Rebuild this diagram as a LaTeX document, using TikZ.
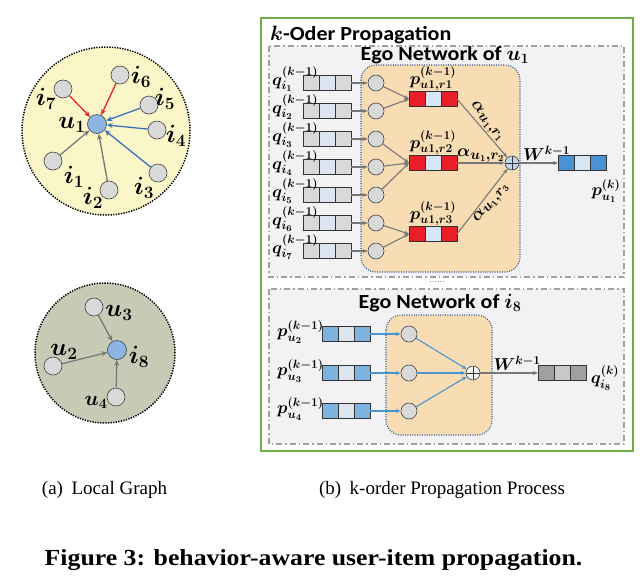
\documentclass[tikz,border=0pt]{standalone}
\usepackage[no-math]{fontspec}
\usepackage{amsmath}
\usetikzlibrary{arrows.meta}
\newfontfamily\calib[FakeStretch=1.1]{Carlito}
\newfontfamily\capserif{Liberation Serif}
\definecolor{gborder}{RGB}{112,173,71}
\definecolor{egofill}{RGB}{242,242,245}
\definecolor{egoline}{RGB}{160,160,160}
\definecolor{peach}{RGB}{248,221,180}
\definecolor{dotblue}{RGB}{47,85,151}
\definecolor{cellgray}{RGB}{217,217,217}
\definecolor{celllav}{RGB}{222,227,240}
\definecolor{cellred}{RGB}{232,30,40}
\definecolor{celllb}{RGB}{214,230,244}
\definecolor{cellblue}{RGB}{74,146,212}
\definecolor{cellsky}{RGB}{126,179,224}
\definecolor{celldg}{RGB}{160,160,160}
\definecolor{cellmg}{RGB}{200,200,200}
\definecolor{nodegray}{RGB}{217,217,217}
\definecolor{nodeblue}{RGB}{141,180,226}
\definecolor{arrred}{RGB}{232,34,40}
\definecolor{arrblue}{RGB}{58,114,184}
\definecolor{arrgray}{RGB}{120,120,120}
\definecolor{lineblue}{RGB}{70,150,210}
\definecolor{yellowbg}{RGB}{250,246,200}
\definecolor{olivebg}{RGB}{199,203,181}
\definecolor{opblue}{RGB}{189,215,238}
% vector box: name, left x, centre y, three colours
\newcommand\vecb[6]{%
  \fill[#4] (#2,#3-7.5) rectangle ++(16,15);
  \fill[#5] (#2+16,#3-7.5) rectangle ++(16,15);
  \fill[#6] (#2+32,#3-7.5) rectangle ++(16,15);
  \draw[cellline] (#2+16,#3-7.5) -- ++(0,15) (#2+32,#3-7.5) -- ++(0,15);
  \node[cellframe] (#1) at (#2+24,#3) {};}
\begin{document}
\begin{tikzpicture}[x=1pt,y=-1pt,
  cellline/.style={draw=black!80, line width=0.7pt},
  cellframe/.style={draw=black!80, line width=0.7pt, minimum width=48pt, minimum height=15pt, inner sep=0pt, outer sep=0pt},
  gnode/.style={circle, draw=black!75, line width=0.6pt, fill=nodegray, minimum size=18pt, inner sep=0pt},
  bnode/.style={gnode, fill=nodeblue, minimum size=19pt},
  snode/.style={gnode, minimum size=16pt},
  oplusnode/.style={circle, draw=black!75, line width=0.6pt, minimum size=14pt, inner sep=0pt,
     path picture={\draw[black!80, line width=0.6pt] (path picture bounding box.north) -- (path picture bounding box.south)
        (path picture bounding box.west) -- (path picture bounding box.east);}},
  biglbl/.style={inner sep=0pt, font=\fontsize{25}{27}\selectfont\boldmath},
  mlbl/.style={inner sep=0pt, font=\fontsize{18}{20}\selectfont\boldmath},
  alpl/.style={inner sep=1pt, font=\fontsize{19}{21}\selectfont\boldmath},
  sanstitle/.style={inner sep=0pt, font=\calib\bfseries\fontsize{20}{22}\selectfont},
  capfont/.style={inner sep=0pt, font=\capserif\fontsize{19}{21}\selectfont},
  figfont/.style={inner sep=0pt, font=\capserif\bfseries\fontsize{23}{25}\selectfont},
  redarr/.style={draw=arrred, line width=1.3pt, -{Stealth[length=6pt,width=5pt]}},
  bluearr/.style={draw=arrblue, line width=1.3pt, -{Stealth[length=6pt,width=5pt]}},
  grayarr/.style={draw=arrgray, line width=1.3pt, -{Stealth[length=6pt,width=5pt]}},
  garr/.style={draw=arrgray, line width=1.1pt, -{Stealth[length=5pt,width=4pt]}},
  barr/.style={draw=lineblue, line width=1.1pt, -{Stealth[length=5pt,width=4pt]}},
  egobox/.style={draw=egoline, fill=egofill, line width=1.2pt, dash pattern=on 6pt off 3pt on 1.5pt off 3pt},
  peachbox/.style={draw=dotblue, fill=peach, line width=1.1pt, dash pattern=on 1pt off 1.4pt, rounded corners=15pt},
  dotcircle/.style={circle, draw=black, line width=1.5pt, dash pattern=on 1.3pt off 1.3pt, inner sep=0pt}
]
\useasboundingbox (0,0) rectangle (644,582);
\fill[white] (0,0) rectangle (644,582);

%% ---------- (a) local graph ----------
\node[dotcircle, fill=yellowbg, minimum size=168pt] (lg1) at (106,131) {};
\node[bnode] (u1) at (97,124) {};
\node[gnode] (i7) at (63,89) {};
\node[gnode] (i6) at (120,75) {};
\node[gnode] (i5) at (149,105) {};
\node[gnode] (i4) at (157,130) {};
\node[gnode] (i3) at (158,173) {};
\node[gnode] (i2) at (109,190) {};
\node[gnode] (i1) at (53,161) {};
\draw[redarr] (i7) -- (u1);
\draw[redarr] (i6) -- (u1);
\draw[bluearr] (i5) -- (u1);
\draw[bluearr] (i4) -- (u1);
\draw[bluearr] (i3) -- (u1);
\draw[grayarr] (i1) -- (u1);
\draw[grayarr] (i2) -- (u1);
\node[biglbl] (lu1) at (72,125) {$u_1$};
\node[biglbl] (li7) at (46,99) {$i_7$};
\node[biglbl] (li6) at (141,77) {$i_6$};
\node[biglbl] (li5) at (165,99) {$i_5$};
\node[biglbl] (li4) at (176,136) {$i_4$};
\node[biglbl] (li3) at (144,188) {$i_3$};
\node[biglbl] (li2) at (93,198) {$i_2$};
\node[biglbl] (li1) at (74,177) {$i_1$};

\node[dotcircle, fill=olivebg, minimum size=140pt] (lg2) at (105,353) {};
\node[bnode] (i8) at (117,350) {};
\node[gnode] (u3) at (94,307) {};
\node[gnode] (u2) at (53,366) {};
\node[gnode] (u4) at (116,397) {};
\draw[grayarr] (u3) -- (i8);
\draw[grayarr] (u2) -- (i8);
\draw[grayarr] (u4) -- (i8);
\node[biglbl] (lu3) at (119,313) {$u_3$};
\node[biglbl] (lu2) at (64,352) {$u_2$};
\node[biglbl] (li8) at (139,357) {$i_8$};
\node[biglbl, font=\fontsize{21}{23}\selectfont\boldmath] (lu4) at (96,402) {$u_4$};

%% ---------- (b) frame ----------
\draw[gborder, line width=2pt] (261,18) rectangle (633,451);
\node[sanstitle, anchor=base west] (ttl) at (270,40) {{\boldmath$k$}-Oder Propagation};

\draw[egobox] (269,46) rectangle (624,277);
\draw[peachbox] (361,65) rectangle (520,272);
\node[sanstitle, anchor=base] (ego1) at (445,60) {Ego Network of {\boldmath$u_1$}};

\draw[egobox] (269,289) rectangle (624,444);
\draw[peachbox] (386,315) rectangle (492,435);
\node[sanstitle, anchor=base] (ego2) at (440,308) {Ego Network of {\boldmath$i_8$}};

\node[inner sep=0pt, font=\fontsize{9}{9}\selectfont] (dots) at (437,282) {......};

%% ---------- ego network of u1 ----------
\foreach \k/\y in {1/83,2/111,3/139,4/167,5/195,6/223,7/251}{
  \vecb{q\k}{303}{\y}{cellgray}{celllav}{cellgray}
  \node[snode] (c\k) at (376,\y) {};
  \draw[garr] (q\k) -- (c\k);
  \node[mlbl, anchor=base west] (lq\k) at (272,\y+2) {$q^{(k-1)}_{i_{\k}}$};
}
\vecb{r1}{409}{99}{cellred}{celllb}{cellred}
\vecb{r2}{409}{163}{cellred}{celllb}{cellred}
\vecb{r3}{409}{234}{cellred}{celllb}{cellred}
\draw[garr] (c1) -- (r1.west);
\draw[garr] (c2) -- (r1.west);
\draw[garr] (c3) -- (r2.west);
\draw[garr] (c4) -- (r2.west);
\draw[garr] (c5) -- (r2.west);
\draw[garr] (c6) -- (r3.west);
\draw[garr] (c7) -- (r3.west);
\node[mlbl, anchor=south] (lr1) at (r1.north) {$p^{(k-1)}_{u1,r1}$};
\node[mlbl, anchor=south] (lr2) at (r2.north) {$p^{(k-1)}_{u1,r2}$};
\node[mlbl, anchor=south] (lr3) at (r3.north) {$p^{(k-1)}_{u1,r3}$};

\node[oplusnode, fill=opblue] (op1) at (512,163) {};
\draw[garr] (r1.east) -- (op1) node[alpl, pos=0.48, sloped, above] {$\alpha_{u_1,r_1}$};
\draw[garr] (r2.east) -- (op1) node[alpl, pos=0.5, above, inner sep=0.5pt] {$\alpha_{u_1,r_2}$};
\draw[garr] (r3.east) -- (op1) node[alpl, pos=0.55, sloped, below] {$\alpha_{u_1,r_3}$};
\vecb{o1}{558}{163}{cellblue}{celllb}{cellblue}
\draw[garr] (op1) -- (o1) node[mlbl, pos=0.5, above=2pt, xshift=8pt] {$W^{k-1}$};
\node[mlbl] (lo1) at (606,191) {$p^{(k)}_{u_1}$};

%% ---------- ego network of i8 ----------
\foreach \k/\u/\y in {1/2/334,2/3/373,3/4/411}{
  \vecb{s\k}{322}{\y}{cellsky}{celllav}{cellsky}
  \node[snode] (d\k) at (409,\y) {};
  \draw[barr] (s\k) -- (d\k);
  \node[mlbl, anchor=base west] (ls\k) at (277,\y+2) {$p^{(k-1)}_{u_{\u}}$};
}
\node[oplusnode, fill=white!92!gray] (op2) at (473,373) {};
\draw[barr] (d1) -- (op2);
\draw[barr] (d2) -- (op2);
\draw[barr] (d3) -- (op2);
\vecb{o2}{538}{373}{celldg}{cellmg}{celldg}
\draw[garr] (op2) -- (o2) node[mlbl, pos=0.5, above=2pt, xshift=8pt] {$W^{k-1}$};
\node[mlbl] (lo2) at (605,378) {$q^{(k)}_{i_8}$};

%% ---------- captions ----------
\node[capfont, anchor=base] (capa) at (104.5,494) {(a)\hspace{0.45em}Local Graph};
\node[capfont, anchor=base] (capb) at (442,494) {(b)\hspace{0.45em}k-order Propagation Process};
\node[figfont, anchor=base] (fig) at (313.5,565) {\scalebox{1.12}[1]{Figure 3: behavior-aware user-item propagation.}};
\end{tikzpicture}
\end{document}
